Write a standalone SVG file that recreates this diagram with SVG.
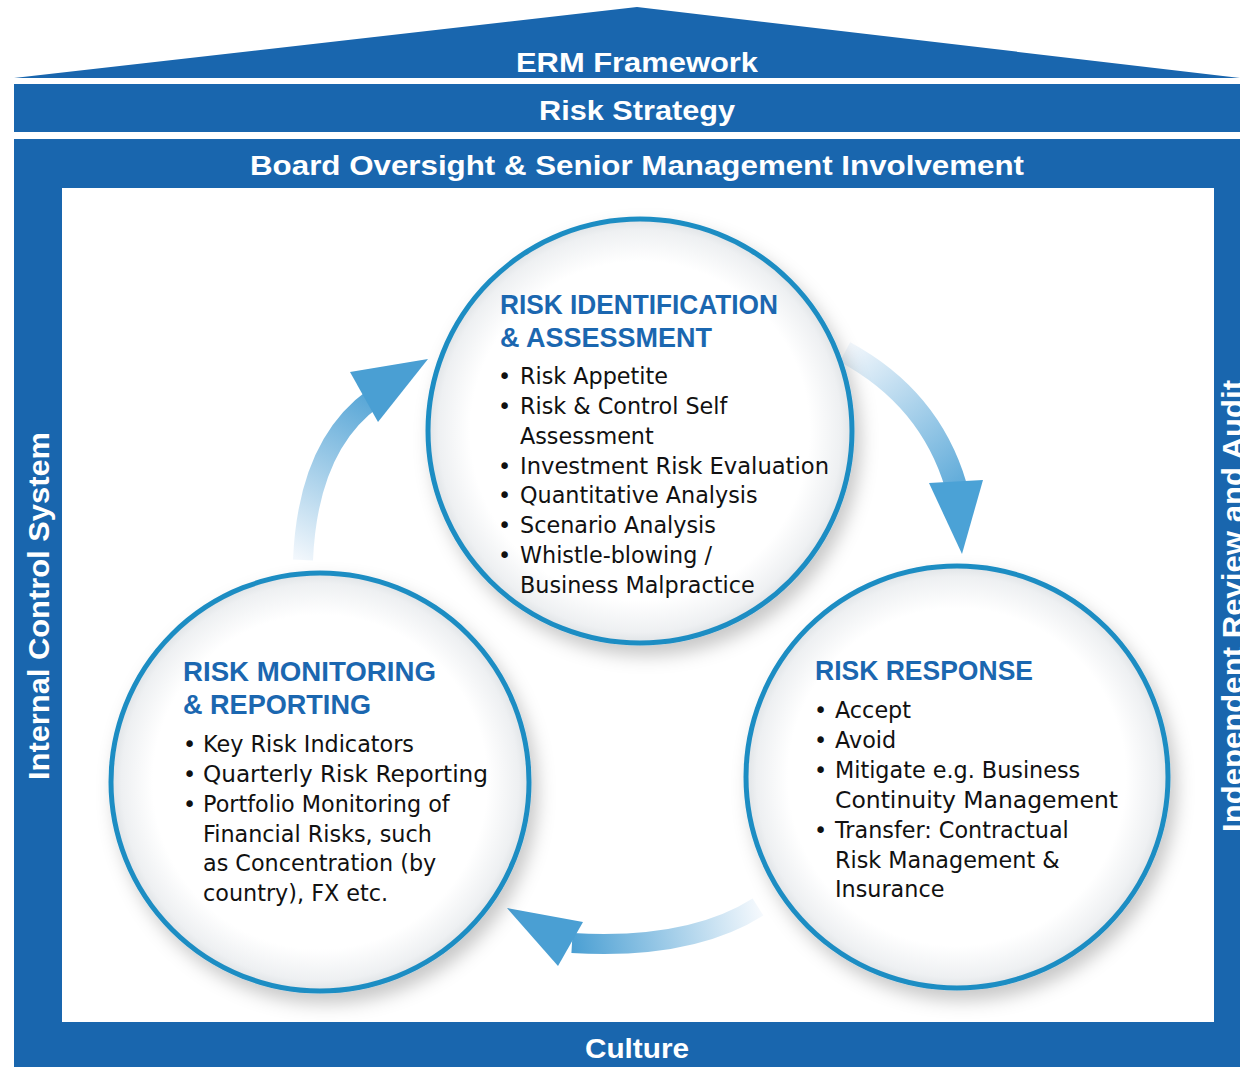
<svg xmlns="http://www.w3.org/2000/svg" width="1240" height="1067" viewBox="0 0 1240 1067">
<style>
.band{fill:#1966ae}
.bt{font-family:"Liberation Sans",Arial,sans-serif;font-weight:bold;fill:#fff;text-anchor:middle}
.side{font-family:"Liberation Sans",Arial,sans-serif;font-weight:bold;fill:#fff;font-size:29px;text-anchor:middle}
.ring{fill:url(#cfill);stroke:#1f8dc3;stroke-width:5;filter:url(#sh)}
.hd{font-family:"Liberation Sans",Arial,sans-serif;font-weight:bold;fill:#1b67b0;font-size:28px}
.it{font-family:"DejaVu Sans","Liberation Sans",sans-serif;fill:#111;font-size:22.3px}
</style>
<defs>
<radialGradient id="cfill" cx="0.5" cy="0.5" r="0.5">
<stop offset="0.8" stop-color="#ffffff"/>
<stop offset="0.95" stop-color="#eef0f2"/>
<stop offset="1" stop-color="#dfe3e6"/>
</radialGradient>
<filter id="sh" x="-20%" y="-20%" width="140%" height="140%">
<feDropShadow dx="6" dy="10" stdDeviation="9" flood-color="#000" flood-opacity="0.22"/>
</filter>
<linearGradient id="gL" gradientUnits="userSpaceOnUse" x1="300" y1="560" x2="390" y2="390">
<stop offset="0" stop-color="#f2f7fc"/>
<stop offset="1" stop-color="#4a9fd3"/>
</linearGradient>
<linearGradient id="gR" gradientUnits="userSpaceOnUse" x1="845" y1="350" x2="960" y2="495">
<stop offset="0" stop-color="#f2f7fc"/>
<stop offset="1" stop-color="#5aa8d8"/>
</linearGradient>
<linearGradient id="gB" gradientUnits="userSpaceOnUse" x1="760" y1="905" x2="570" y2="940">
<stop offset="0" stop-color="#f5f9fd"/>
<stop offset="1" stop-color="#4a9fd3"/>
</linearGradient>
</defs>

<g id="frame">
<polygon class="band" points="14,78 637,7 1240,78"/>
<rect class="band" x="14" y="84" width="1226" height="48"/>
<path class="band" d="M14 139 H1240 V1067 H14 Z M62 188 V1022 H1214 V188 Z" fill-rule="evenodd"/>
</g>
<g id="erm-framework"><text class="bt" x="637" y="72" font-size="28" textLength="242" lengthAdjust="spacingAndGlyphs">ERM Framework</text></g>
<g id="risk-strategy"><text class="bt" x="637" y="120" font-size="28" textLength="196" lengthAdjust="spacingAndGlyphs">Risk Strategy</text></g>
<g id="board-oversight"><text class="bt" x="637" y="175" font-size="28" textLength="774" lengthAdjust="spacingAndGlyphs">Board Oversight &amp; Senior Management Involvement</text></g>
<g id="culture"><text class="bt" x="637" y="1058" font-size="28" textLength="104" lengthAdjust="spacingAndGlyphs">Culture</text></g>
<g id="internal-control"><text class="side" transform="translate(49,606) rotate(-90)" textLength="348" lengthAdjust="spacingAndGlyphs">Internal Control System</text></g>
<g id="independent-review"><text class="side" transform="translate(1243,606) rotate(-90)" textLength="452" lengthAdjust="spacingAndGlyphs">Independent Review and Audit</text></g>

<g id="connectors">
<path d="M303 560 Q308 445 374 398" fill="none" stroke="url(#gL)" stroke-width="20"/>
<polygon points="428,359 350,372 378,422" fill="#4a9fd3"/>
<path d="M845 352 Q930 398 956 486" fill="none" stroke="url(#gR)" stroke-width="22"/>
<polygon points="929,483 983,480 962,554" fill="#4ba2d6"/>
<path d="M758 907 Q690 950 572 943" fill="none" stroke="url(#gB)" stroke-width="20"/>
<polygon points="507,908 583,922 558,966" fill="#4a9fd3"/>
</g>

<g id="risk-identification">
<circle class="ring" cx="640" cy="431" r="212"/>
<text class="hd" x="500" y="314" textLength="278" lengthAdjust="spacingAndGlyphs">RISK IDENTIFICATION</text>
<text class="hd" x="500" y="347" textLength="212" lengthAdjust="spacingAndGlyphs">&amp; ASSESSMENT</text>
<text class="it" x="498" y="384">•</text><text class="it" x="520" y="384">Risk Appetite</text>
<text class="it" x="498" y="414">•</text><text class="it" x="520" y="414">Risk &amp; Control Self</text>
<text class="it" x="520" y="444">Assessment</text>
<text class="it" x="498" y="474">•</text><text class="it" x="520" y="474" textLength="309" lengthAdjust="spacingAndGlyphs">Investment Risk Evaluation</text>
<text class="it" x="498" y="503">•</text><text class="it" x="520" y="503">Quantitative Analysis</text>
<text class="it" x="498" y="533">•</text><text class="it" x="520" y="533">Scenario Analysis</text>
<text class="it" x="498" y="563">•</text><text class="it" x="520" y="563">Whistle-blowing /</text>
<text class="it" x="520" y="593">Business Malpractice</text>
</g>

<g id="risk-monitoring">
<circle class="ring" cx="320" cy="782" r="209"/>
<text class="hd" x="183" y="681" textLength="253" lengthAdjust="spacingAndGlyphs">RISK MONITORING</text>
<text class="hd" x="183" y="714" textLength="188" lengthAdjust="spacingAndGlyphs">&amp; REPORTING</text>
<text class="it" x="183" y="752">•</text><text class="it" x="203" y="752">Key Risk Indicators</text>
<text class="it" x="183" y="782">•</text><text class="it" x="203" y="782" textLength="285" lengthAdjust="spacingAndGlyphs">Quarterly Risk Reporting</text>
<text class="it" x="183" y="812">•</text><text class="it" x="203" y="812">Portfolio Monitoring of</text>
<text class="it" x="203" y="842">Financial Risks, such</text>
<text class="it" x="203" y="871">as Concentration (by</text>
<text class="it" x="203" y="901">country), FX etc.</text>
</g>

<g id="risk-response">
<circle class="ring" cx="957" cy="777" r="211"/>
<text class="hd" x="815" y="680" textLength="218" lengthAdjust="spacingAndGlyphs">RISK RESPONSE</text>
<text class="it" x="814" y="718">•</text><text class="it" x="835" y="718">Accept</text>
<text class="it" x="814" y="748">•</text><text class="it" x="835" y="748">Avoid</text>
<text class="it" x="814" y="778">•</text><text class="it" x="835" y="778">Mitigate e.g. Business</text>
<text class="it" x="835" y="808" textLength="283" lengthAdjust="spacingAndGlyphs">Continuity Management</text>
<text class="it" x="814" y="838">•</text><text class="it" x="835" y="838">Transfer: Contractual</text>
<text class="it" x="835" y="868">Risk Management &amp;</text>
<text class="it" x="835" y="897">Insurance</text>
</g>
</svg>
